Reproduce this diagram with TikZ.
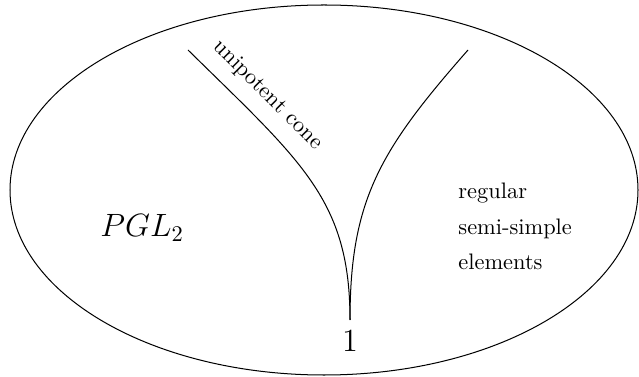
\documentclass[tikz,border=0pt]{standalone}
\begin{document}
\begin{tikzpicture}[x=0.4464pt,y=-0.4464pt,
  curve/.style={line width=0.45pt},
  lbl/.style={inner sep=0pt,anchor=base west}]
\useasboundingbox (0,0) rectangle (639,377);
\draw[curve] (324,190) ellipse [x radius=314, y radius=185];
\coordinate (tl) at (188,50);
\coordinate (tr) at (468,50);
\coordinate (cusp) at (350,320);
\draw[curve] (tl) .. controls (302,162) and (350,200) .. (cusp);
\draw[curve] (tr) .. controls (380,150) and (350,200) .. (cusp);
\node[inner sep=0pt,rotate=-45,anchor=base] (uc) at (264,99) {unipotent cone};
\node[inner sep=0pt,anchor=base] (one) at (350,352) {\Large $1$};
\node[lbl] (pgl) at (100,237) {\Large $PGL_2$};
\node[lbl] (r1) at (458,199) {regular};
\node[lbl] (r2) at (458,235) {semi-simple};
\node[lbl] (r3) at (458,270) {elements};
\end{tikzpicture}
\end{document}
